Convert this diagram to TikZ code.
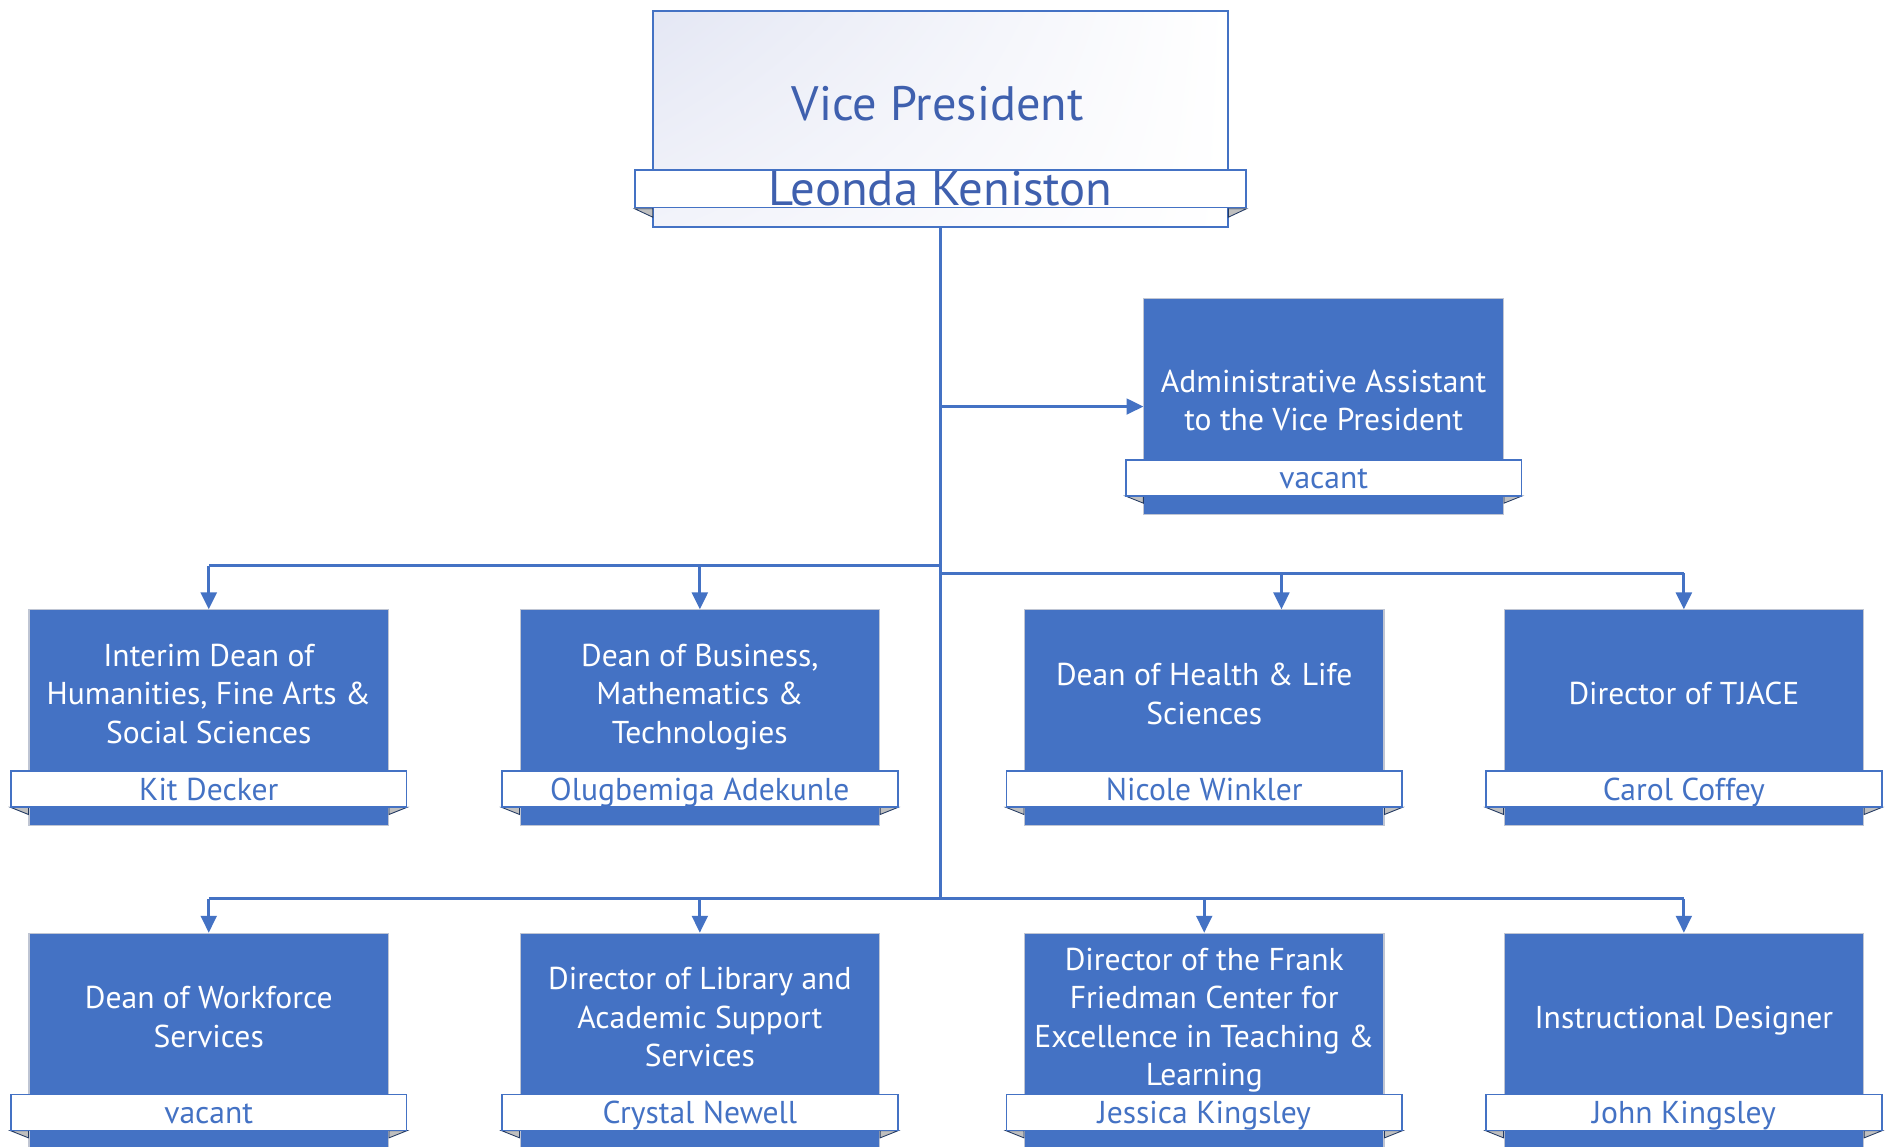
\documentclass[tikz,border=0pt]{standalone}
\usepackage{fontspec}
\setmainfont{PT Sans}
\usetikzlibrary{arrows.meta,calc,shadings}
\definecolor{obl}{HTML}{4472C4}
\definecolor{vpt}{HTML}{3F60AE}
\definecolor{edgec}{HTML}{BFC5D3}
\definecolor{lav}{HTML}{E4E7F4}
\definecolor{lav2}{HTML}{F2F3FA}
\newcommand\orgcard[6]{% name, cx, top, title y offset, title, person
  \node[boxst, anchor=north] (#1) at (#2,#3) {};
  \fill[foldst] ($(#1.north west)+(-15,164)$) -- ($(#1.north west)+(0,164)$) -- ($(#1.north west)+(0,170)$) -- cycle;
  \fill[foldst] ($(#1.north east)+(15,164)$) -- ($(#1.north east)+(0,164)$) -- ($(#1.north east)+(0,170)$) -- cycle;
  \node[banst] (#1n) at ($(#1.north)+(0,149)$) {#6};
  \node[ttl] (#1t) at ($(#1.north)+(0,#4)$) {#5\vphantom{gy}};
}
\begin{document}
\begin{tikzpicture}[x=0.02cm,y=-0.02cm,
  boxst/.style={fill=obl, draw=edgec, line width=0.5pt, minimum width=5.96cm, minimum height=3.58cm, inner sep=0pt},
  banst/.style={fill=white, draw=obl, line width=0.8pt, minimum width=6.56cm, minimum height=0.6cm, inner sep=0pt, text=obl, text height=13.6pt, text depth=3.2pt, font=\fontsize{14.9}{17}\selectfont},
  ttl/.style={text=white, align=center, font=\fontsize{14.9}{18.2}\selectfont},
  conn/.style={draw=obl, line width=1.4pt},
  arr/.style={conn, -{Triangle[length=0.28cm,width=0.26cm]}},
  foldst/.style={fill=gray!50, draw=obl!50!black, line width=0.4pt}
]
\useasboundingbox[fill=white] (0,0) rectangle (1568,950);

% Vice President
\node[draw=obl, line width=0.9pt, minimum width=9.54cm, minimum height=3.58cm, inner sep=0pt, anchor=north,
      upper left=lav, upper right=white, lower left=lav2, lower right=white]
      (vp) at (779.5,8) {};
\fill[foldst] (526,173) -- (541,173) -- (541,180) -- cycle;
\fill[foldst] (1033,173) -- (1018,173) -- (1018,180) -- cycle;
\node[fill=white, draw=obl, line width=0.9pt, minimum width=10.14cm, minimum height=0.62cm, inner sep=0pt,
      text=vpt, font=\fontsize{23}{26}\selectfont] (vpn) at (779.5,156.5) {Leonda Keniston};
\node[text=vpt, font=\fontsize{22.8}{26}\selectfont] (vpt) at (777,86) {Vice President};

% Admin
\orgcard{adm}{1097}{247}{87.5}{Administrative Assistant\\to the Vice President}{vacant}

% Row 1
\orgcard{hum}{173}{505}{72.5}{Interim Dean of\\Humanities, Fine Arts \&\\Social Sciences}{Kit Decker}
\orgcard{bus}{580}{505}{72.5}{Dean of Business,\\Mathematics \&\\Technologies}{Olugbemiga Adekunle}
\orgcard{hea}{998}{505}{72.5}{Dean of Health \& Life\\Sciences}{Nicole Winkler}
\orgcard{tja}{1395.5}{505}{72.5}{Director of TJACE}{Carol Coffey}

% Row 2
\orgcard{wfs}{173}{773}{72.5}{Dean of Workforce\\Services}{vacant}
\orgcard{lib}{580}{773}{72.5}{Director of Library and\\Academic Support\\Services}{Crystal Newell}
\orgcard{ffc}{998}{773}{72.5}{Director of the Frank\\Friedman Center for\\Excellence in Teaching \&\\Learning}{Jessica Kingsley}
\orgcard{ins}{1395.5}{773}{72.5}{Instructional Designer}{John Kingsley}

% Connectors
\coordinate (tr) at (vp.south |- 0,745);
\coordinate (j1) at (vp.south |- 0,469);
\coordinate (j2) at (vp.south |- 0,475);
\coordinate (ja) at (vp.south |- adm.west);
\draw[conn] (vp.south) -- (tr);
\draw[arr] (ja) -- (adm.west);
\draw[conn] (j1) -- (hum.north |- j1);
\draw[arr] (hum.north |- j1) -- (hum.north);
\draw[arr] (bus.north |- j1) -- (bus.north);
\draw[conn] (j2) -- (tja.north |- j2);
\draw[arr] (1062,475) -- (1062,505);
\draw[arr] (tja.north |- j2) -- (tja.north);
\draw[conn] (wfs.north |- tr) -- (ins.north |- tr);
\draw[arr] (wfs.north |- tr) -- (wfs.north);
\draw[arr] (lib.north |- tr) -- (lib.north);
\draw[arr] (ffc.north |- tr) -- (ffc.north);
\draw[arr] (ins.north |- tr) -- (ins.north);
\end{tikzpicture}
\end{document}
